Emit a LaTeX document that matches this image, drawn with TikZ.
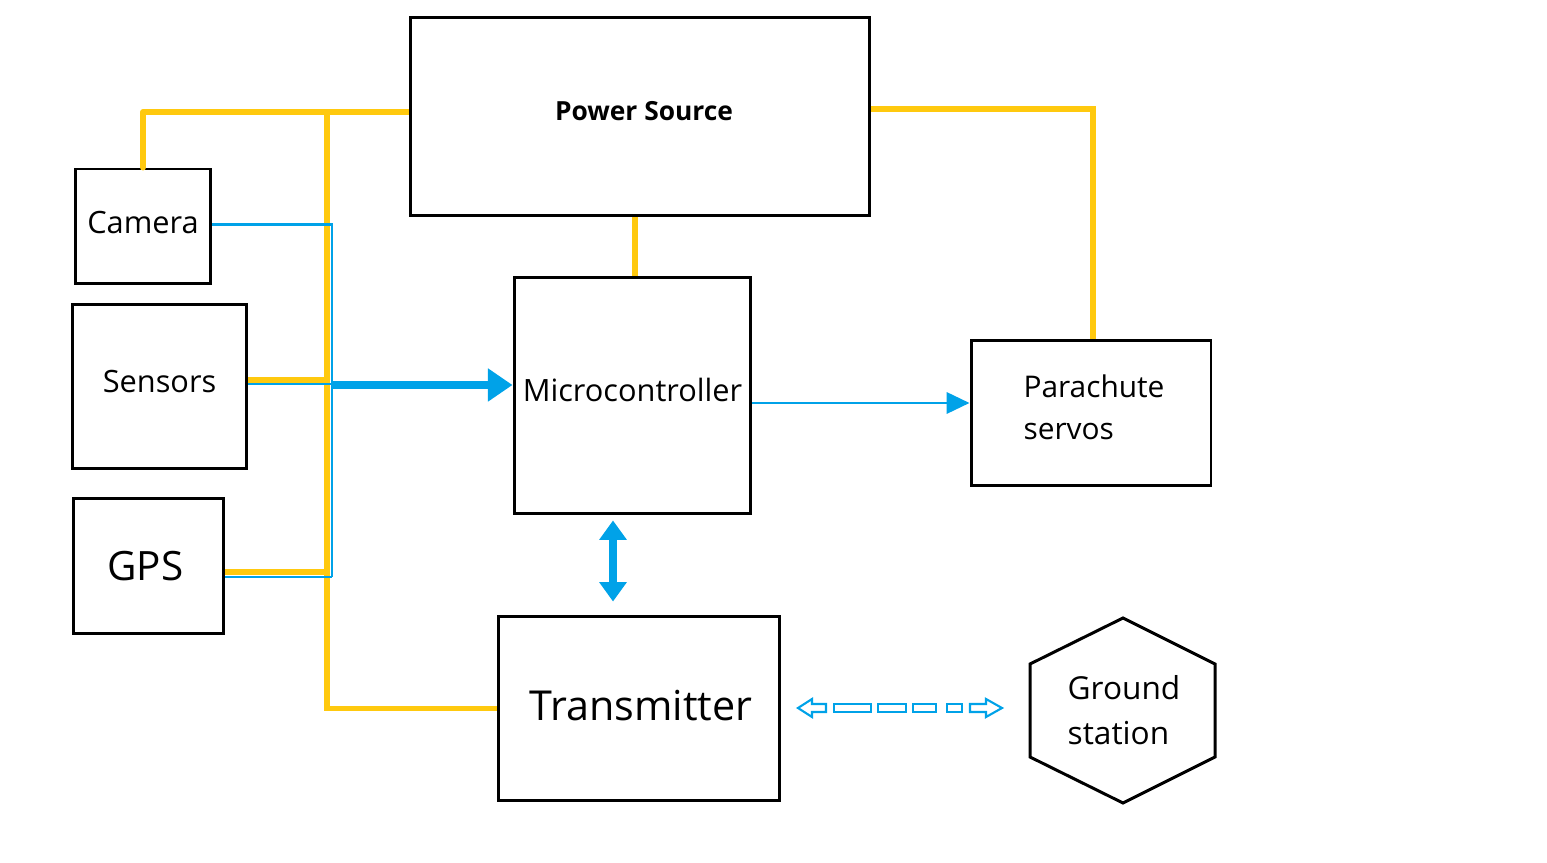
\documentclass[tikz,border=0pt]{standalone}
\usepackage{fontspec}
\setmainfont{Open Sans}
\usetikzlibrary{arrows.meta,calc}
\definecolor{yel}{HTML}{FFC90E}
\definecolor{blu}{HTML}{00A2E8}
\tikzset{
  box/.style={draw=black,line width=1.7pt,inner sep=0pt,fill=white},
  txt/.style={font=\fontsize{17.5}{24}\selectfont,inner sep=0pt},
  pwr/.style={draw=yel,line width=3.4pt},
  sig/.style={draw=blu,line width=1.7pt},
  dashshape/.style={draw=blu,line width=1.2pt,line join=miter},
}
\begin{document}
\begin{tikzpicture}[x=0.02cm,y=0.02cm]
\useasboundingbox (0,0) rectangle (1547,862);
% boxes
\node[box,minimum width=2.72cm,minimum height=2.30cm] (cam) at (143,635.5) {};
\node[txt] (camL) at (143,639) {Camera};
\node[box,minimum width=3.50cm,minimum height=3.30cm] (sen) at (159.5,475.5) {};
\node[txt] (senL) at (159.5,480.5) {Sensors};
\node[box,minimum width=3.02cm,minimum height=2.72cm] (gps) at (148.5,296) {};
\node[txt,font=\fontsize{23}{28}\selectfont] (gpsL) at (145.5,296) {GPS};
\node[box,minimum width=9.20cm,minimum height=3.98cm] (pw) at (640,745.5) {};
\node[txt,font=\fontsize{15}{20}\selectfont\bfseries] (pwL) at (644,750.5) {Power Source};
\node[box,minimum width=4.74cm,minimum height=4.74cm] (mc) at (632.5,466.5) {};
\node[txt] (mcL) at (632.5,472) {Microcontroller};
\node[box,minimum width=4.80cm,minimum height=2.92cm] (pc) at (1091,449) {};
\node[txt,align=left,font=\fontsize{17}{24}\selectfont] (pcL) at (1094,455) {Parachute\\servos};
\node[box,minimum width=5.64cm,minimum height=3.70cm] (tx) at (639,153.5) {};
\node[txt,font=\fontsize{23.5}{28}\selectfont] (txL) at (641,156) {Transmitter};
% hexagon
\coordinate (h1) at (1123,244);
\coordinate (h2) at (1215,198);
\coordinate (h3) at (1215,105);
\coordinate (h4) at (1123,59);
\coordinate (h5) at (1030,105);
\coordinate (h6) at (1030,198);
\draw[black,line width=1.7pt,line join=miter] (h1) -- (h2) -- (h3) -- (h4) -- (h5) -- (h6) -- cycle;
\node[txt,align=left,font=\fontsize{18}{25.5}\selectfont] (gs) at (1124,152) {Ground\\station};
% power lines
\coordinate (busTop) at (327,750);
\draw[pwr,line cap=round,line join=round] (cam.north) |- (busTop);
\draw[pwr] (busTop) -- (pw.west |- busTop);
\draw[pwr] (busTop) |- (tx.west);
\draw[pwr] ($(sen.east)+(0,6.5)$) -- ($(sen.east)+(80,6.5)$);
\draw[pwr] ($(gps.east)+(0,-6)$) -- ($(gps.east)+(103,-6)$);
\draw[pwr] ($(mc.north)+(2.5,0)$) -- ($(mc.north |- pw.south)+(2.5,0)$);
\draw[pwr] ($(pw.east)+(0,7.5)$) -| ($(pc.north)+(2,0)$);
% signal lines
\coordinate (sb) at (332,285);
\draw[sig] ($(cam.east)+(0,1.5)$) -| (sb);
\draw[sig] ($(sen.east)+(0,2.5)$) -- ($(sen.east)+(85,2.5)$);
\draw[sig] ($(gps.east)+(0,-11)$) -- (sb);
\draw[blu,line width=4pt,-{Triangle[length=14pt,width=18pt]}] ($(sen.east)+(85,1.5)$) -- ($(mc.west)+(0,10.5)$);
\draw[sig,-{Triangle[length=13pt,width=12pt]}] ($(mc.east)+(0,-7.5)$) -- ($(pc.west)+(0,10)$);
\coordinate (bd) at (613,0);
\draw[blu,line width=4.5pt,{Triangle[length=11pt,width=15pt]}-{Triangle[length=11pt,width=15pt]}] ($(mc.south -| bd)+(0,-5)$) -- ($(tx.north -| bd)+(0,13)$);
% dashed open double arrow
\draw[dashshape] (798,154) -- (812,163) -- (812,158) -- (826,158) -- (826,150) -- (812,150) -- (812,145) -- cycle;
\draw[dashshape] (834,150) rectangle (871,158);
\draw[dashshape] (878,150) rectangle (906,158);
\draw[dashshape] (913,150) rectangle (936,158);
\draw[dashshape] (947,150) rectangle (962,158);
\draw[dashshape] (1002,154) -- (986,163) -- (986,158) -- (970,158) -- (970,150) -- (986,150) -- (986,145) -- cycle;
\end{tikzpicture}
\end{document}
